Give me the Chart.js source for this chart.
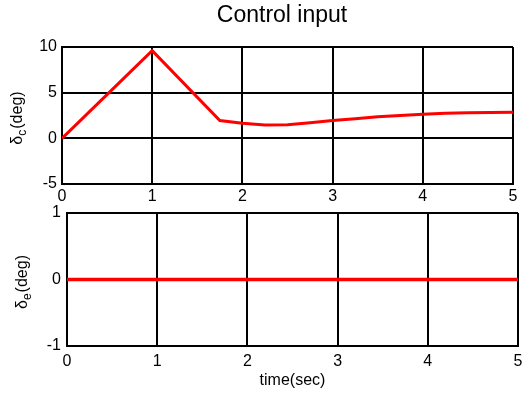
<!DOCTYPE html>
<html>
<head>
<meta charset="utf-8">
<script src="https://cdn.jsdelivr.net/npm/chart.js@4.4.0/dist/chart.umd.min.js"></script>
<style>
  html, body { margin: 0; padding: 0; background: #fff; }
  #wrap { position: relative; width: 523px; height: 394px; overflow: hidden; }
  .box { position: absolute; left: 0; width: 523px; }
  #top { top: 0; height: 205px; }
  #bottom { top: 205px; height: 189px; }
</style>
</head>
<body>
<div id="wrap">
  <div class="box" id="top"><canvas id="deltaC"></canvas></div>
  <div class="box" id="bottom"><canvas id="deltaE"></canvas></div>
</div>
<script>
// time axis (sec)
const timeC = [0, 1, 1.75, 2.0, 2.25, 2.5, 2.75, 3.0, 3.25, 3.5, 3.75, 4.0, 4.25, 4.5, 5.0];
// delta_c (deg)
const deltaC = [0, 9.6, 1.95, 1.65, 1.45, 1.5, 1.7, 1.95, 2.15, 2.35, 2.5, 2.65, 2.75, 2.8, 2.85];
// delta_e (deg)
const timeE = [0, 5];
const deltaE = [0, 0];

const xTicks = [0, 1, 2, 3, 4, 5];
const yTicksC = [-5, 0, 5, 10];
const yTicksE = [-1, 0, 1];

const FONT = "'Liberation Sans', Arial, sans-serif";
Chart.defaults.font.family = FONT;
Chart.defaults.color = "#000";

function pts(xs, ys) {
  return xs.map((x, i) => ({ x: x, y: ys[i] }));
}

// rotated y label with a subscript, plus optional title
function labelPlugin(sub, cx, title) {
  return {
    id: "labels",
    afterDraw(chart) {
      let ctx = chart.ctx;
      let a = chart.chartArea;
      ctx.save();
      ctx.fillStyle = "#000";
      if (title) {
        ctx.font = "23px " + FONT;
        ctx.textAlign = "center";
        ctx.textBaseline = "middle";
        ctx.fillText(title, 282, 16);
      }
      ctx.translate(cx, (a.top + a.bottom) / 2 + 3);
      ctx.rotate(-Math.PI / 2);
      ctx.textBaseline = "alphabetic";
      ctx.textAlign = "left";
      let big = "16px " + FONT;
      let small = "12px " + FONT;
      ctx.font = big;
      let w1 = ctx.measureText("\u03b4").width;
      ctx.font = small;
      let w2 = ctx.measureText(sub).width;
      ctx.font = big;
      let w3 = ctx.measureText("(deg)").width;
      let x0 = -(w1 + w2 + w3) / 2;
      ctx.fillText("\u03b4", x0, 5);
      ctx.font = small;
      ctx.fillText(sub, x0 + w1, 9);
      ctx.font = big;
      ctx.fillText("(deg)", x0 + w1 + w2 + 1, 5);
      ctx.restore();
    },
  };
}

function makeChart(id, data, yMin, yMax, yTicks, opts) {
  return new Chart(document.getElementById(id), {
    type: "line",
    data: {
      datasets: [
        {
          data: data,
          borderColor: "#ff0000",
          borderWidth: opts.lw,
          pointRadius: 0,
          tension: 0,
          fill: false,
        },
      ],
    },
    options: {
      responsive: true,
      maintainAspectRatio: false,
      animation: false,
      events: [],
      layout: { padding: opts.padding },
      plugins: { legend: { display: false }, tooltip: { enabled: false } },
      scales: {
        x: {
          type: "linear",
          min: 0,
          max: 5,
          afterBuildTicks: (s) => { s.ticks = xTicks.map((v) => ({ value: v })); },
          afterFit: (s) => {
            s.height = opts.xHeight;
            s.paddingLeft = 0;
            s.paddingRight = 0;
          },
          grid: { color: "#000", lineWidth: 2, drawTicks: false },
          border: { color: "#000", width: 2 },
          ticks: { font: { size: 16 }, padding: opts.xPad, maxRotation: 0 },
          title: opts.xTitle
            ? { display: true, text: opts.xTitle, font: { size: 16 }, padding: { top: 2 } }
            : { display: false },
        },
        y: {
          type: "linear",
          min: yMin,
          max: yMax,
          afterBuildTicks: (s) => { s.ticks = yTicks.map((v) => ({ value: v })); },
          afterFit: (s) => {
            s.width = opts.yWidth;
            s.paddingTop = 0;
            s.paddingBottom = 0;
          },
          grid: { color: "#000", lineWidth: 2, drawTicks: false },
          border: { color: "#000", width: 2 },
          ticks: { font: { size: 16 }, padding: opts.yPad },
        },
      },
    },
    plugins: [labelPlugin(opts.sub, opts.labelX, opts.title)],
  });
}

makeChart("deltaC", pts(timeC, deltaC), -5, 10, yTicksC, {
  lw: 3,
  padding: { top: 47, right: 10, left: 0, bottom: 0 },
  xHeight: 21,
  yWidth: 62,
  xPad: 3,
  yPad: 5,
  sub: "c",
  labelX: 17,
  title: "Control input",
});

makeChart("deltaE", pts(timeE, deltaE), -1, 1, yTicksE, {
  lw: 3.5,
  padding: { top: 8, right: 5, left: 0, bottom: 0 },
  xHeight: 48,
  yWidth: 67,
  xPad: 6,
  yPad: 6,
  sub: "e",
  labelX: 22,
  xTitle: "time(sec)",
});
</script>
</body>
</html>
